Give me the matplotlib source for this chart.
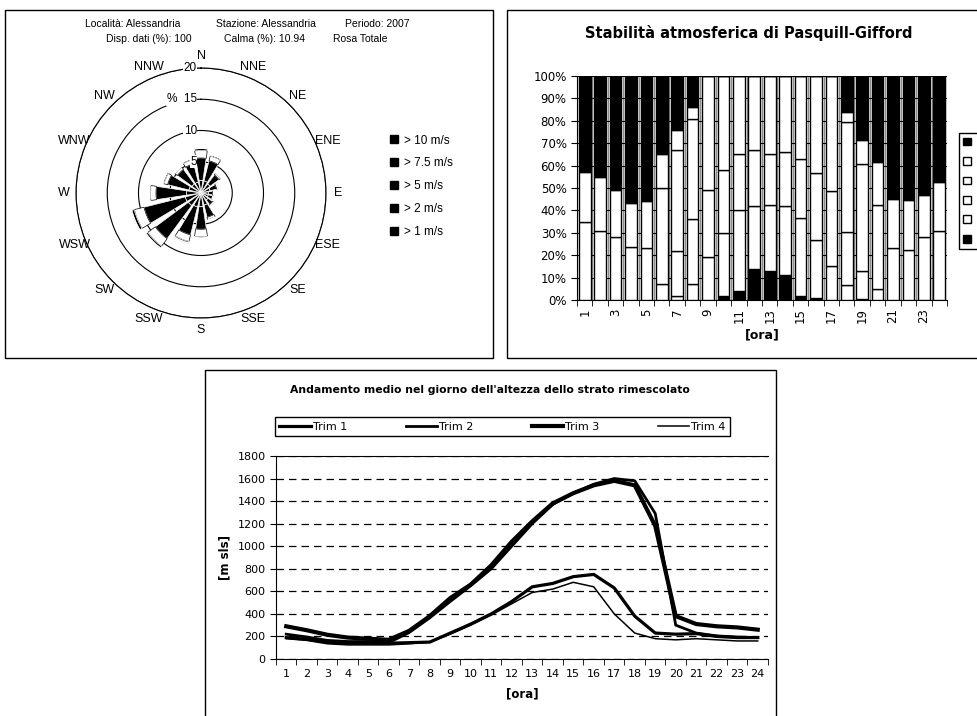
import numpy as np
import matplotlib
matplotlib.use("Agg")
import matplotlib.pyplot as plt
from matplotlib.patches import Rectangle
from matplotlib.lines import Line2D
from matplotlib.ticker import PercentFormatter

W, H = 978, 716

# --- rosa dei venti (16 settori, % per classe di velocita')
directions = ["N", "NNE", "NE", "ENE", "E", "ESE", "SE", "SSE",
              "S", "SSW", "SW", "WSW", "W", "WNW", "NW", "NNW"]
freq_gt1 = [2.0, 2.0, 1.8, 1.5, 1.2, 1.2, 1.4, 2.0, 2.2, 2.3, 2.5, 2.6, 2.3, 2.0, 1.8, 1.8]
freq_gt2 = [3.6, 3.3, 1.8, 1.1, 0.7, 0.7, 0.9, 2.0, 3.6, 4.6, 6.6, 6.8, 4.9, 3.5, 2.9, 3.0]
freq_gt5 = [1.2, 0.8, 0.3, 0.2, 0.1, 0.1, 0.2, 0.4, 1.2, 1.1, 1.5, 1.6, 0.9, 0.6, 0.5, 0.7]
freq_gt75 = [0.3, 0.2, 0.1, 0.0, 0.0, 0.0, 0.0, 0.1, 0.2, 0.2, 0.3, 0.4, 0.2, 0.2, 0.1, 0.2]
freq_gt10 = [0.1, 0.0, 0.0, 0.0, 0.0, 0.0, 0.0, 0.0, 0.0, 0.1, 0.1, 0.1, 0.0, 0.0, 0.0, 0.0]
speed_labels = ["> 1 m/s", "> 2 m/s", "> 5 m/s", "> 7.5 m/s", "> 10 m/s"]
ring_values = [5, 10, 15, 20]
ring_labels = ["5", "10", "%  15", "20"]

# --- stabilita' di Pasquill-Gifford (% per ora)
hours = list(range(1, 25))
stab_A = [0, 0, 0, 0, 0, 0, 0, 0, 0, 2, 4, 14, 13, 11, 2, 1, 0, 0, 0.5, 0, 0, 0, 0, 0]
stab_B = [0, 0, 0, 0, 0, 0, 2, 7, 19, 28, 36, 28, 29.5, 31, 34.5, 26, 15, 6.5, 0, 0, 0, 0, 0, 0]
stab_C = [0, 0, 0, 0, 0, 7, 20, 29, 30, 28, 25, 25, 22.5, 24, 26.5, 29.5, 33.5, 24, 12.5, 5, 0, 0, 0, 0]
stab_D = [35, 31, 28, 23.5, 23, 43, 45, 45, 51, 42, 35, 33, 35, 34, 37, 43.5, 51.5, 49, 47.5, 37.5, 23, 22.5, 28, 31]
stab_E = [22, 24, 21, 20, 21, 15, 9, 5, 0, 0, 0, 0, 0, 0, 0, 0, 0, 4.5, 11, 19, 22, 22, 19, 21.5]
stab_F = [43, 45, 51, 56.5, 56, 35, 24, 14, 0, 0, 0, 0, 0, 0, 0, 0, 0, 16, 28.5, 38.5, 55, 55.5, 53, 47.5]

# --- altezza strato rimescolato [m sls]
trim1 = [190, 175, 150, 140, 140, 140, 145, 150, 230, 310, 400, 510, 640, 670, 730, 750, 630, 380, 230, 220, 225, 200, 190, 190]
trim2 = [220, 195, 165, 155, 155, 145, 235, 365, 510, 650, 800, 1000, 1200, 1370, 1470, 1550, 1600, 1580, 1290, 300, 230, 205, 195, 190]
trim3 = [290, 255, 215, 190, 180, 170, 250, 380, 540, 660, 830, 1040, 1220, 1380, 1470, 1540, 1580, 1540, 1180, 380, 310, 290, 280, 260]
trim4 = [180, 165, 135, 125, 125, 125, 135, 150, 220, 300, 390, 490, 590, 620, 680, 640, 400, 230, 180, 170, 180, 170, 160, 160]

fig = plt.figure(figsize=(W / 100, H / 100), dpi=100)


def box(x0, y0, x1, y1):
    fig.add_artist(Rectangle((x0 / W, 1 - y1 / H), (x1 - x0) / W, (y1 - y0) / H,
                             transform=fig.transFigure, fill=False, ec="black", lw=1.0))


box(5, 10, 493, 358)
box(507, 10, 990, 358)
box(205, 370, 776, 730)

# ---------------- rosa dei venti
rose_font = "Liberation Sans"
for x, y, s in [(133, 24, "Località: Alessandria"), (266, 24, "Stazione: Alessandria"),
                (377, 24, "Periodo: 2007"), (149, 39, "Disp. dati (%): 100"),
                (265, 39, "Calma (%): 10.94"), (360, 39, "Rosa Totale")]:
    fig.text(x / W, 1 - y / H, s, ha="center", va="center", fontsize=7.5, family=rose_font)

ax1 = fig.add_axes([(201 - 125) / W, (716 - 193 - 125) / H, 250 / W, 250 / H], projection="polar")
ax1.set_theta_zero_location("N")
ax1.set_theta_direction(-1)
theta = np.deg2rad(np.arange(len(directions)) * 22.5)
width = np.deg2rad(17)
bottom = np.zeros(len(directions))
for vals, fc, ec in [(freq_gt1, "black", "white"), (freq_gt2, "black", "white"),
                     (freq_gt5, "white", "black"), (freq_gt75, "black", "white"),
                     (freq_gt10, "black", "white")]:
    ax1.bar(theta, vals, width=width, bottom=bottom, color=fc, edgecolor=ec, linewidth=0.5, zorder=3)
    bottom += np.array(vals)
ax1.set_ylim(0, 20)
ax1.set_rgrids(ring_values, labels=[""] * 4)
ax1.set_xticks([])
ax1.yaxis.grid(True, color="black", lw=0.8)
ax1.spines["polar"].set_linewidth(0.8)
for r, lab in zip(ring_values, ring_labels):
    ax1.annotate(lab, (0, r), xytext=(-3, 0), textcoords="offset points", ha="right", va="center",
                 fontsize=8.5, family=rose_font, zorder=5,
                 bbox=dict(fc="white", ec="none", pad=0.3))
for t, d in zip(theta, directions):
    ax1.text(t, 21.9, d, ha="center", va="center", fontsize=9, family=rose_font, clip_on=False)

rose_handles = [Line2D([], [], marker="s", ls="none", color="black", markersize=6) for _ in speed_labels]
fig.legend(rose_handles, speed_labels[::-1], loc="upper left", bbox_to_anchor=(377 / W, 1 - 124 / H),
           frameon=False, prop={"family": rose_font, "size": 8.5}, labelspacing=0.92,
           handletextpad=0.4, handlelength=1.0)

# ---------------- stabilita'
ax2 = fig.add_axes([577 / W, 1 - 300 / H, 370 / W, 224 / H])
ax2.set_axisbelow(True)
bottom = np.zeros(24)
containers = []
for name, vals, col in [("A", stab_A, "black"), ("B", stab_B, "white"), ("C", stab_C, "white"),
                        ("D", stab_D, "white"), ("E", stab_E, "white"), ("F", stab_F, "black")]:
    c = ax2.bar(hours, vals, bottom=bottom, width=0.76, color=col, edgecolor="black",
                linewidth=1.0, label=name, zorder=3)
    containers.append(c)
    bottom += np.array(vals)
ax2.set_xlim(0.5, 24.5)
ax2.set_ylim(0, 100)
ax2.set_yticks(range(0, 101, 10))
ax2.yaxis.set_major_formatter(PercentFormatter(decimals=0))
ax2.set_xticks(hours[::2])
ax2.set_xticklabels([str(h) for h in hours[::2]], rotation=90)
ax2.set_xticks(np.arange(0.5, 25, 1), minor=True)
ax2.tick_params(axis="x", which="major", length=0, pad=6, labelsize=8.5)
ax2.tick_params(axis="x", which="minor", length=4, direction="out")
ax2.tick_params(axis="y", length=4, labelsize=8.5)
ax2.yaxis.grid(True, color="black", lw=0.8)
ax2.xaxis.grid(True, which="minor", color="0.55", lw=0.9)
for s in ["top", "right"]:
    ax2.spines[s].set_visible(False)
ax2.set_xlabel("[ora]", fontweight="bold", fontsize=9, labelpad=4)
fig.text(749 / W, 1 - 33 / H, "Stabilità atmosferica di Pasquill-Gifford", ha="center", va="center",
         fontsize=10.5, fontweight="bold")
fig.legend(containers[::-1], ["F", "E", "D", "C", "B", "A"], loc="upper left",
           bbox_to_anchor=(959 / W, 1 - 133 / H), borderaxespad=0, fontsize=8,
           frameon=True, fancybox=False, edgecolor="black", framealpha=1,
           handlelength=0.7, handleheight=0.7, labelspacing=0.85)

# ---------------- strato rimescolato
ax3 = fig.add_axes([276 / W, 1 - 659 / H, 492 / W, 203 / H])
ax3.plot(hours, trim1, color="black", lw=2.3, label="Trim 1")
ax3.plot(hours, trim2, color="black", lw=2.0, label="Trim 2")
ax3.plot(hours, trim3, color="black", lw=3.0, label="Trim 3")
ax3.plot(hours, trim4, color="black", lw=1.1, label="Trim 4")
ax3.set_xlim(0.5, 24.5)
ax3.set_ylim(0, 1800)
ax3.set_yticks(range(0, 1801, 200))
ax3.set_xticks(hours)
ax3.set_xticks(np.arange(0.5, 25, 1), minor=True)
ax3.tick_params(axis="x", which="major", length=0, pad=7, labelsize=8)
ax3.tick_params(axis="x", which="minor", length=4, direction="out")
ax3.tick_params(axis="y", length=4, labelsize=8)
ax3.set_axisbelow(True)
ax3.yaxis.grid(True, color="black", lw=0.9, linestyle=(0, (6, 4)))
ax3.spines["right"].set_visible(False)
ax3.set_xlabel("[ora]", fontweight="bold", fontsize=8.5, labelpad=6)
ax3.set_ylabel("[m sls]", fontweight="bold", fontsize=8.5, labelpad=4)
fig.text(490 / W, 1 - 390 / H, "Andamento medio nel giorno dell'altezza dello strato rimescolato",
         ha="center", va="center", fontsize=7.8, fontweight="bold")
ax3.legend(loc="lower left", bbox_to_anchor=(275 / W, 1 - 436 / H, 455 / W, 22 / H),
           bbox_transform=fig.transFigure, mode="expand", ncol=4, borderaxespad=0, fontsize=8,
           frameon=True, fancybox=False, edgecolor="black", framealpha=1,
           handlelength=2.8, handletextpad=0.2)

fig.savefig("out.png", dpi=100)
